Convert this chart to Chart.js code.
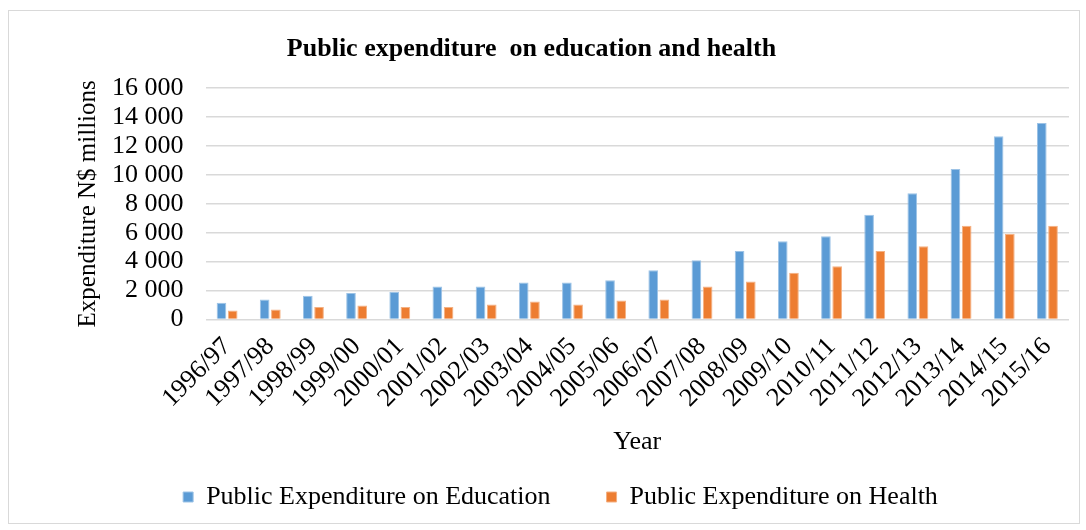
<!DOCTYPE html>
<html>
<head>
<meta charset="utf-8">
<script src="https://cdn.jsdelivr.net/npm/chart.js@4/dist/chart.umd.min.js"></script>
<style>
  html, body { margin: 0; padding: 0; background: #fff; }
  #wrap { position: relative; width: 1086px; height: 530px; }
  #frame { position: absolute; left: 8px; top: 10px; width: 1072px; height: 514px; border: 1.5px solid #d9d9d9; box-sizing: border-box; }
  canvas { position: absolute; left: 0; top: 0; }
</style>
</head>
<body>
<div id="wrap">
  <div id="frame"></div>
  <canvas id="chart" width="1086" height="530"></canvas>
</div>
<script>
var years = ['1996/97', '1997/98', '1998/99', '1999/00', '2000/01', '2001/02', '2002/03',
  '2003/04', '2004/05', '2005/06', '2006/07', '2007/08', '2008/09', '2009/10',
  '2010/11', '2011/12', '2012/13', '2013/14', '2014/15', '2015/16'];

var education = [1150, 1390, 1640, 1840, 1910, 2280, 2280, 2550, 2550, 2710,
  3410, 4100, 4730, 5410, 5750, 7250, 8730, 10410, 12680, 13600];

var health = [620, 690, 860, 960, 860, 860, 1030, 1250, 1030, 1320,
  1390, 2280, 2620, 3230, 3680, 4730, 5070, 6480, 5930, 6480];

var yTicks = [0, 2000, 4000, 6000, 8000, 10000, 12000, 14000, 16000];

var serif = "'Liberation Serif', 'Times New Roman', serif";

function thousands(v) {
  return String(v).replace(/\B(?=(\d{3})+(?!\d))/g, ' ');
}

Chart.defaults.font.family = serif;
Chart.defaults.color = '#000';

// the title in the original sits a bit left of the legend's centre
var titleShift = {
  id: 'titleShift',
  afterLayout: function(chart) {
    if (chart.titleBlock) {
      chart.titleBlock.left -= 58;
    }
  }
};

new Chart(document.getElementById('chart').getContext('2d'), {
  type: 'bar',
  data: {
    labels: years,
    datasets: [
      {
        label: 'Public Expenditure on Education',
        data: education,
        backgroundColor: '#5B9BD5',
        borderColor: '#9DC3E6',
        borderWidth: 1
      },
      {
        label: 'Public Expenditure on Health',
        data: health,
        backgroundColor: '#ED7D31',
        borderColor: '#F4B183',
        borderWidth: 1
      }
    ]
  },
  plugins: [titleShift],
  options: {
    responsive: false,
    animation: false,
    layout: { padding: { left: 52, right: 17, top: 14, bottom: 10 } },
    datasets: {
      bar: { categoryPercentage: 0.52, barPercentage: 0.86 }
    },
    plugins: {
      title: {
        display: true,
        text: 'Public expenditure  on education and health',
        font: { size: 26, weight: 'bold', family: serif },
        padding: { top: 20, bottom: 23 }
      },
      legend: {
        position: 'bottom',
        labels: {
          boxWidth: 10,
          boxHeight: 10,
          padding: 56,
          font: { size: 26, family: serif }
        }
      },
      tooltip: { enabled: false }
    },
    scales: {
      x: {
        grid: { display: false },
        border: { display: false },
        ticks: {
          minRotation: 45,
          maxRotation: 45,
          autoSkip: false,
          padding: 4,
          font: { size: 26, family: serif }
        },
        title: {
          display: true,
          text: 'Year',
          font: { size: 26, family: serif },
          padding: { top: 9, bottom: -30 }
        }
      },
      y: {
        min: 0,
        max: 16000,
        afterBuildTicks: function(axis) {
          axis.ticks = yTicks.map(function(v) { return { value: v }; });
        },
        grid: { color: '#d9d9d9', lineWidth: 1.5, drawTicks: false },
        border: { display: false },
        ticks: {
          autoSkip: false,
          padding: 22,
          font: { size: 26, family: serif },
          callback: function(v) { return thousands(v); }
        },
        title: {
          display: true,
          text: 'Expenditure N$ millions',
          font: { size: 25, family: serif },
          padding: { top: 21, bottom: -13 }
        }
      }
    }
  }
});
</script>
</body>
</html>
